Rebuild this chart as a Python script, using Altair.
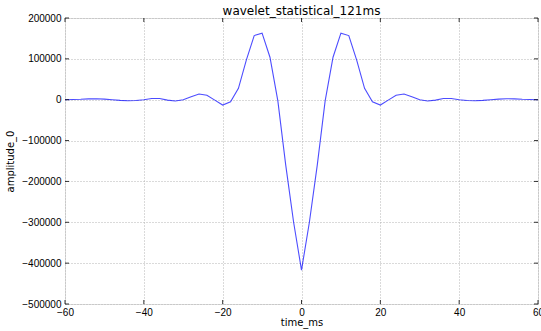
import altair as alt
import pandas as pd

# data (symmetric statistical wavelet, 2 ms sampling)
time_ms = list(range(-60, 62, 2))
half = [  # values for t = 0, 2, 4, ... 60
    -417000, -300000, -160000, -3000, 104000, 163000, 157000, 97000, 28000,
    -5000, -13000, -1000, 11000, 14000, 7000, 0, -3000, -1000, 3000, 3000,
    0, -2000, -2500, -1500, 0, 1500, 2500, 2000, 1000, 500, 0,
]
amplitude_0 = half[::-1] + half[1:]

x_ticks = [-60, -40, -20, 0, 20, 40, 60]
y_ticks = [-500000, -400000, -300000, -200000, -100000, 0, 100000, 200000]

df = pd.DataFrame({"time_ms": time_ms, "amplitude_0": amplitude_0})
xt = pd.DataFrame({"v": x_ticks})
yt = pd.DataFrame({"v": y_ticks})

W, H = 473, 286
FONT = "DejaVu Sans"
minus = "replace(datum.label, '-', '\u2212')"

xscale = alt.Scale(domain=[-60, 60], nice=False, zero=False)
yscale = alt.Scale(domain=[-500000, 200000], nice=False, zero=False)

line = alt.Chart(df).mark_line(color="#0000ff", strokeWidth=1.1, opacity=0.7).encode(
    x=alt.X("time_ms:Q", scale=xscale,
            axis=alt.Axis(values=x_ticks, title="time_ms", labelExpr=minus,
                          grid=True, gridDash=[1, 2], gridColor="#b5b5b5",
                          tickSize=0, labelPadding=3, domain=False,
                          labelFlush=False, labelOverlap=False,
                          titlePadding=0, titleFontWeight="normal",
                          titleFont=FONT, titleFontSize=10, titleColor="black")),
    y=alt.Y("amplitude_0:Q", scale=yscale,
            axis=alt.Axis(values=y_ticks, title="amplitude_0", labelExpr=minus,
                          grid=True, gridDash=[1, 2], gridColor="#b5b5b5",
                          tickSize=0, labelPadding=4, domain=False,
                          labelFlush=False, labelOverlap=False,
                          titlePadding=6, format="d", titleFontWeight="normal",
                          titleFont=FONT, titleFontSize=10, titleColor="black")),
)

# inward ticks (matplotlib classic style)
xt_bot = alt.Chart(xt).mark_rule(color="black", strokeWidth=0.8).encode(
    x=alt.X("v:Q", scale=xscale), y=alt.value(H), y2=alt.value(H - 4))
xt_top = alt.Chart(xt).mark_rule(color="black", strokeWidth=0.8).encode(
    x=alt.X("v:Q", scale=xscale), y=alt.value(0), y2=alt.value(4))
yt_left = alt.Chart(yt).mark_rule(color="black", strokeWidth=0.8).encode(
    y=alt.Y("v:Q", scale=yscale), x=alt.value(0), x2=alt.value(4))
yt_right = alt.Chart(yt).mark_rule(color="black", strokeWidth=0.8).encode(
    y=alt.Y("v:Q", scale=yscale), x=alt.value(W), x2=alt.value(W - 4))

chart = alt.layer(line, xt_bot, xt_top, yt_left, yt_right).properties(
    width=W, height=H,
    title=alt.Title("wavelet_statistical_121ms", font=FONT, fontSize=12,
                    fontWeight="normal", color="black", offset=4, dy=9),
    autosize=alt.AutoSizeParams(type="none"),
    padding={"left": 65, "top": 18, "right": 3, "bottom": 27},
).configure_view(
    stroke="black", strokeWidth=1
).configure_axis(
    labelFont=FONT, labelFontSize=10, labelColor="black",
).configure(background="white")

chart.save("out.html", embed_options={"renderer": "svg", "actions": False})
